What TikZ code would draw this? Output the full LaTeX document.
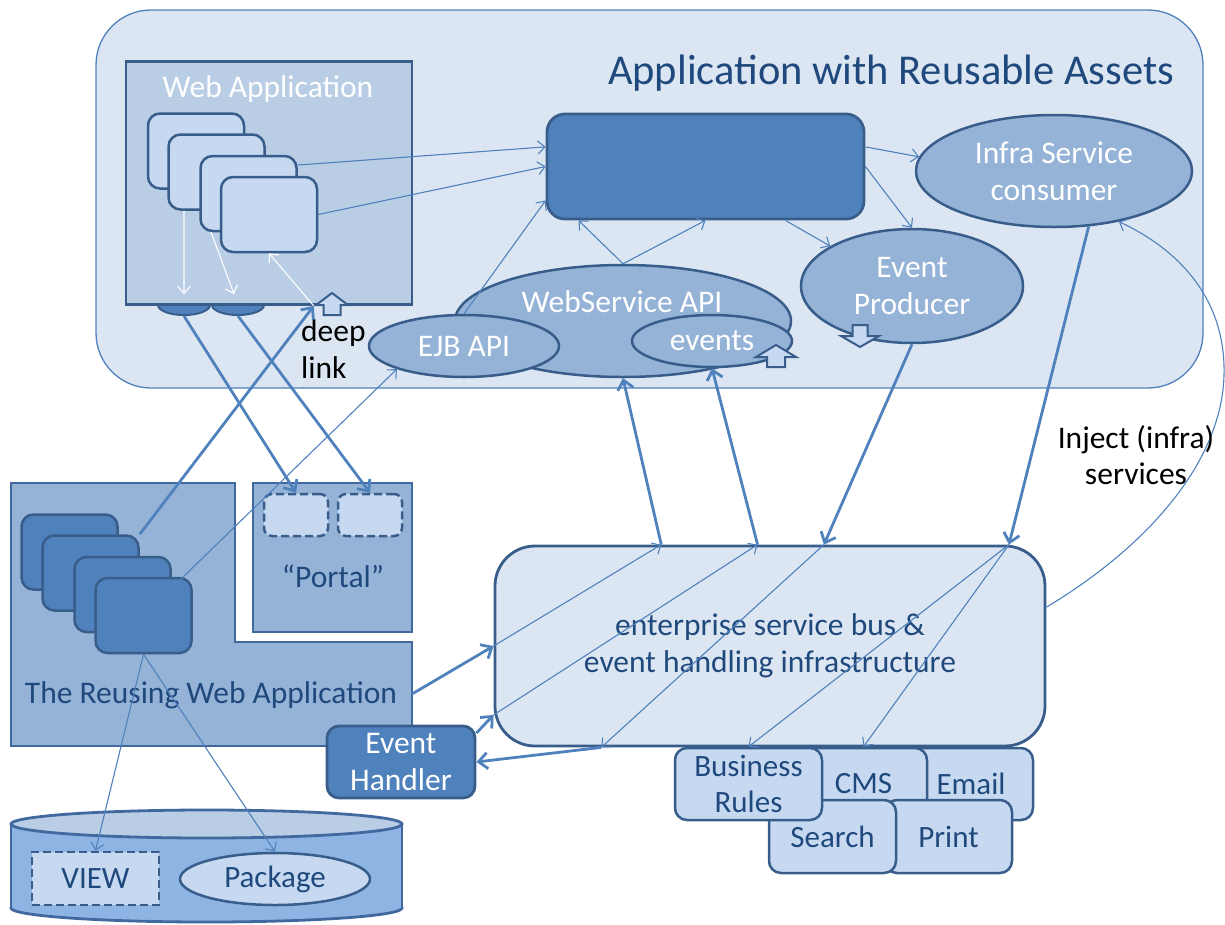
\documentclass[tikz,border=0pt]{standalone}
\usepackage{fontspec}
\setmainfont{Carlito}
\usetikzlibrary{shapes.geometric,arrows.meta}
\definecolor{bgfill}{HTML}{DCE6F2}
\definecolor{acc}{HTML}{4F81BD}
\definecolor{dline}{HTML}{385D8A}
\definecolor{mline}{HTML}{41699F}
\definecolor{lightf}{HTML}{C6D9F1}
\definecolor{waf}{HTML}{B9CDE5}
\definecolor{midf}{HTML}{95B3D7}
\definecolor{cylf}{HTML}{8EB4E3}
\definecolor{txtd}{HTML}{1F497D}
\begin{document}
\begin{tikzpicture}[x=1pt,y=-1pt,
  lbl/.style={font=\fontsize{31.5}{36.5}\selectfont, align=center, inner sep=0pt},
  wlbl/.style={lbl, text=white},
  dlbl/.style={lbl, text=txtd},
  card/.style={draw=dline, line width=2.5pt, fill=lightf, rounded corners=12pt, minimum width=96pt, minimum height=75pt, inner sep=0pt},
  ell/.style={ellipse, draw=dline, line width=2.5pt, fill=midf, inner sep=0pt, font=\fontsize{31.5}{37}\selectfont, align=center, text=white},
  svc/.style={draw=dline, line width=2.5pt, fill=lightf, rounded corners=12pt, inner sep=0pt, text=txtd, font=\fontsize{31}{36}\selectfont, align=center},
  dashbox/.style={draw=dline, line width=2.5pt, fill=lightf, dash pattern=on 8pt off 4pt, inner sep=0pt},
  bigbox/.style={draw=mline, line width=2.8pt, fill=midf, inner sep=0pt},
  blockarr/.style={draw=dline, line width=2pt, fill=lightf, line join=miter},
  thinarr/.style={draw=acc, line width=1.1pt, -{Straight Barb[length=7pt,width=13pt]}},
  thickarr/.style={draw=acc, line width=2.8pt, -{Straight Barb[length=9pt,width=16pt]}},
  whitearr/.style={draw=white, line width=1.1pt, -{Straight Barb[length=7pt,width=13pt]}},
]
\useasboundingbox (0,0) rectangle (1225,924);

% ---------- upper container ----------
\node[draw=acc, line width=1.3pt, fill=bgfill, rounded corners=55pt, minimum width=1107pt, minimum height=378pt, inner sep=0pt] (outer) at (649.5,199) {};
\node[font=\fontsize{42.5}{48}\selectfont, text=txtd, inner sep=0pt] (title) at (891,73) {Application with Reusable Assets};

% half ellipses under the web application
\node[ellipse, draw=dline, line width=2pt, fill=acc, minimum width=52pt, minimum height=20pt, inner sep=0pt] (he1) at (184,305) {};
\node[ellipse, draw=dline, line width=2pt, fill=acc, minimum width=52pt, minimum height=20pt, inner sep=0pt] (he2) at (238,305) {};

% web application
\node[draw=dline, line width=2.8pt, fill=waf, minimum width=286pt, minimum height=243pt, inner sep=0pt] (wa) at (269,183) {};
\node[wlbl] (watitle) at (268,89) {Web Application};
\node[card] (wc1) at (196,151) {};
\node[card] (wc2) at (216.5,172) {};
\node[card] (wc3) at (248.5,193.5) {};
\node[card] (wc4) at (269,214.5) {};
\draw[blockarr] (332,293) -- (348,305) -- (340.5,305) -- (340.5,315) -- (323.5,315) -- (323.5,305) -- (316,305) -- cycle;
\node[lbl, text=black, align=left, anchor=west] (deeplink) at (301,349) {deep\\link};

% central dark box
\node[draw=dline, line width=2.8pt, fill=acc, rounded corners=18pt, minimum width=317pt, minimum height=105pt, inner sep=0pt] (dr) at (705.5,166.5) {};

% API ellipses
\node[ell, minimum width=336pt, minimum height=112pt] (ws) at (623,321) {};
\node[wlbl] (wstext) at (622,302) {WebService API};
\node[ell, minimum width=190pt, minimum height=62pt] (ejb) at (464,346) {EJB API};
\node[ell, minimum width=160pt, minimum height=52pt] (ev) at (712,341) {events};
\draw[blockarr] (776,345) -- (796,357) -- (785,357) -- (785,367) -- (767,367) -- (767,357) -- (756,357) -- cycle;

% event producer / infra consumer
\node[ell, minimum width=222pt, minimum height=114pt] (ep) at (912,286) {Event\\Producer};
\draw[blockarr] (852.5,325) -- (867.5,325) -- (867.5,336) -- (879,336) -- (860,347) -- (841,336) -- (852.5,336) -- cycle;
\node[ell, minimum width=276pt, minimum height=112pt] (infra) at (1054,171) {Infra Service\\consumer};

% ---------- reusing web application ----------
\draw[bigbox] (11,483) -- (235,483) -- (235,642) -- (412,642) -- (412,746) -- (11,746) -- cycle;
\coordinate (rwa) at (412,694);
\node[dlbl] (rwatext) at (211,695) {The Reusing Web Application};
\node[card, fill=acc] (rc1) at (69.5,552) {};
\node[card, fill=acc] (rc2) at (90.5,573) {};
\node[card, fill=acc] (rc3) at (122.5,594.5) {};
\node[card, fill=acc] (rc4) at (143.5,615.5) {};

% portal
\node[bigbox, minimum width=159pt, minimum height=149pt] (portal) at (332.5,557.5) {};
\node[dashbox, rounded corners=8pt, minimum width=64pt, minimum height=42pt] (pd1) at (296,515) {};
\node[dashbox, rounded corners=8pt, minimum width=64pt, minimum height=42pt] (pd2) at (370,515) {};
\node[dlbl] (portaltext) at (333,576) {“Portal”};

% database cylinder
\node[ellipse, draw=mline, line width=2.8pt, fill=cylf, minimum width=391pt, minimum height=28pt, inner sep=0pt] (cylb) at (206.5,908) {};
\fill[cylf] (11,824) rectangle (402,908);
\draw[mline, line width=2.8pt] (11,824) -- (11,908) (402,824) -- (402,908);
\node[ellipse, draw=mline, line width=2.8pt, fill=waf, minimum width=391pt, minimum height=28pt, inner sep=0pt] (cylt) at (206.5,824) {};
\node[dashbox, minimum width=127pt, minimum height=53pt, text=txtd, font=\fontsize{31}{36}\selectfont] (view) at (95.5,878.5) {VIEW};
\node[ellipse, draw=dline, line width=2.5pt, fill=lightf, minimum width=190pt, minimum height=52pt, inner sep=0pt, text=txtd, font=\fontsize{31}{36}\selectfont] (pkg) at (275,879) {Package};

% event handler
\node[draw=dline, line width=2.8pt, fill=acc, rounded corners=12pt, minimum width=148pt, minimum height=72pt, wlbl] (eh) at (401,762) {Event\\Handler};

% ---------- enterprise service bus ----------
\node[draw=dline, line width=2.8pt, fill=bgfill, rounded corners=40pt, minimum width=550pt, minimum height=200pt, dlbl] (esb) at (770,646) {enterprise service bus \&\\event handling infrastructure};

% services
\node[svc, minimum width=128pt, minimum height=72pt] (email) at (969,784) {\hspace*{4pt}Email};
\node[svc, minimum width=127pt, minimum height=72pt] (cms) at (863.5,784) {CMS};
\node[svc, minimum width=127pt, minimum height=73pt] (print) at (948.5,836.5) {Print};
\node[svc, minimum width=127pt, minimum height=73pt] (search) at (832.5,836.5) {Search};
\node[svc, minimum width=147pt, minimum height=72pt] (br) at (748.5,784) {Business\\Rules};

% ---------- connectors ----------
% web application internals
\draw[whitearr] (wc2.230) -- (he1.north);
\draw[whitearr] (wc3.226) -- (he2.110);
\draw[whitearr] (wa.-70) -- (wc4.south);

% into the central box
\draw[thinarr] (wc3.30) -- (dr.173);
\draw[thinarr] (wc4.east) -- (dr.west);
\draw[thinarr] (ejb.north) -- (dr.192);
\draw[thinarr] (ws.north) -- (dr.203);
\draw[thinarr] (ws.north) -- (dr.south);
\draw[thinarr] (dr.-34.5) -- (ep.154);
\draw[thinarr] (dr.east) -- (ep.north);
\draw[thinarr] (dr.7) -- (infra.174);

% reusing application links
\draw[thickarr] (he1.south) -- (pd1.north);
\draw[thickarr] (he2.south) -- (pd2.north);
\draw[thickarr] (rc2.north east) -- (wa.-70);
\draw[thinarr] (rc4.center) -- (ejb.199);
\draw[thinarr] (rc4.south) -- (view.north);
\draw[thinarr] (rc4.south) -- (pkg.north);

% bus links
\draw[thickarr] (rwa) -- (esb.west);
\draw[thickarr] (eh.21) -- (esb.194.3);
\draw[thickarr] (esb.211) -- (eh.east);
\draw[thinarr] (esb.west) -- (esb.137);
\draw[thinarr] (esb.194.3) -- (esb.97);
\draw[thickarr] (esb.137) -- (ws.south);
\draw[thickarr] (esb.97) -- (ev.south);
\draw[thickarr] (ep.south) -- (esb.62);
\draw[thickarr] (infra.-58) -- (esb.23.3);
\draw[thinarr] (esb.62) -- (esb.211);
\draw[thinarr] (esb.23.3) -- (br.north);
\draw[thinarr] (esb.23.3) -- (cms.north);

% inject curve
\draw[thinarr] (esb.8) .. controls (1150,545) and (1222,460) .. (1224,375) .. controls (1226,300) and (1180,250) .. (infra.-38);
\node[lbl, text=black] (inject) at (1136,455) {Inject (infra)\\services};
\end{tikzpicture}
\end{document}
